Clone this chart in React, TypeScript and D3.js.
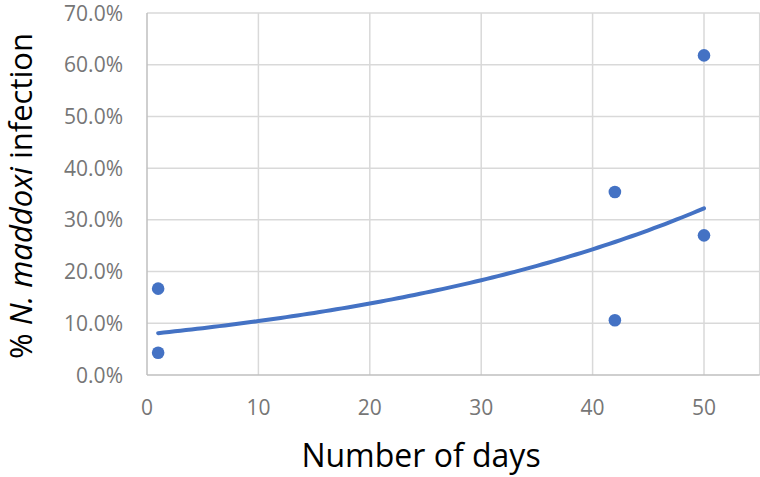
import React, { useEffect, useRef } from "react";
import * as d3 from "d3";

const days = [1, 1, 42, 42, 50, 50];
const infection = [0.167, 0.043, 0.354, 0.106, 0.618, 0.27];

const xTicks = [0, 10, 20, 30, 40, 50];
const yTicks = [0, 0.1, 0.2, 0.3, 0.4, 0.5, 0.6, 0.7];
const xGrid = [10, 20, 30, 40, 50, 55];

const WIDTH = 760;
const HEIGHT = 477;
const FONT = "'Open Sans', sans-serif";

const App = () => {
  const ref = useRef<SVGSVGElement>(null);

  useEffect(() => {
    const svg = d3.select(ref.current);
    svg.selectAll("*").remove();

    const x = d3.scaleLinear().domain([0, 55]).range([147, 759.7]);
    const y = d3.scaleLinear().domain([0, 0.7]).range([375, 13]);

    // gridlines
    svg.append("g")
      .selectAll("line")
      .data(yTicks.slice(1))
      .enter().append("line")
      .attr("x1", x(0)).attr("x2", x(55))
      .attr("y1", d => y(d)).attr("y2", d => y(d))
      .attr("stroke", "#d9d9d9").attr("stroke-width", 1.5);

    svg.append("g")
      .selectAll("line")
      .data(xGrid)
      .enter().append("line")
      .attr("x1", d => x(d)).attr("x2", d => x(d))
      .attr("y1", y(0)).attr("y2", y(0.7))
      .attr("stroke", "#d9d9d9").attr("stroke-width", 1.5);

    // axis lines
    svg.append("line")
      .attr("x1", x(0)).attr("x2", x(55))
      .attr("y1", y(0)).attr("y2", y(0))
      .attr("stroke", "#bfbfbf").attr("stroke-width", 1.5);
    svg.append("line")
      .attr("x1", x(0)).attr("x2", x(0))
      .attr("y1", y(0)).attr("y2", y(0.7))
      .attr("stroke", "#bfbfbf").attr("stroke-width", 1.5);

    // tick labels
    svg.append("g")
      .selectAll("text")
      .data(yTicks)
      .enter().append("text")
      .attr("x", 123)
      .attr("y", d => y(d))
      .attr("dy", "0.36em")
      .attr("text-anchor", "end")
      .attr("font-family", FONT)
      .attr("font-size", 21)
      .attr("fill", "#767676")
      .text(d => d3.format(".1%")(d));

    svg.append("g")
      .selectAll("text")
      .data(xTicks)
      .enter().append("text")
      .attr("x", d => x(d))
      .attr("y", 415)
      .attr("text-anchor", "middle")
      .attr("font-family", FONT)
      .attr("font-size", 21)
      .attr("fill", "#767676")
      .text(d => d);

    // exponential trendline, least squares on ln(y)
    const lx = d3.mean(days)!;
    const ly = d3.mean(infection, v => Math.log(v))!;
    const sxy = d3.sum(days, (d, i) => (d - lx) * (Math.log(infection[i]) - ly));
    const sxx = d3.sum(days, d => (d - lx) ** 2);
    const b = sxy / sxx;
    const a = Math.exp(ly - b * lx);
    const trend = d3.range(1, 50.001, 0.5).map(d => [d, a * Math.exp(b * d)] as [number, number]);

    svg.append("path")
      .datum(trend)
      .attr("fill", "none")
      .attr("stroke", "#4472c4")
      .attr("stroke-width", 4)
      .attr("stroke-linecap", "round")
      .attr("d", d3.line<[number, number]>().x(d => x(d[0])).y(d => y(d[1])));

    svg.append("g")
      .selectAll("circle")
      .data(days)
      .enter().append("circle")
      .attr("cx", d => x(d))
      .attr("cy", (d, i) => y(infection[i]))
      .attr("r", 6.3)
      .attr("fill", "#4472c4");

    // axis titles
    svg.append("text")
      .attr("x", 421)
      .attr("y", 467)
      .attr("text-anchor", "middle")
      .attr("font-family", FONT)
      .attr("font-size", 32)
      .attr("fill", "#000")
      .text("Number of days");

    const yt = svg.append("text")
      .attr("transform", "translate(32,196) rotate(-90)")
      .attr("text-anchor", "middle")
      .attr("font-family", FONT)
      .attr("font-size", 31)
      .attr("fill", "#000");
    yt.append("tspan").text("% ");
    yt.append("tspan").attr("font-style", "italic").text("N. maddoxi");
    yt.append("tspan").text(" infection");
  }, []);

  return (
    <svg
      ref={ref}
      width={WIDTH}
      height={HEIGHT}
      style={{ position: "absolute", left: 0, top: 0, background: "#fff" }}
    ></svg>
  );
};

export default App;
